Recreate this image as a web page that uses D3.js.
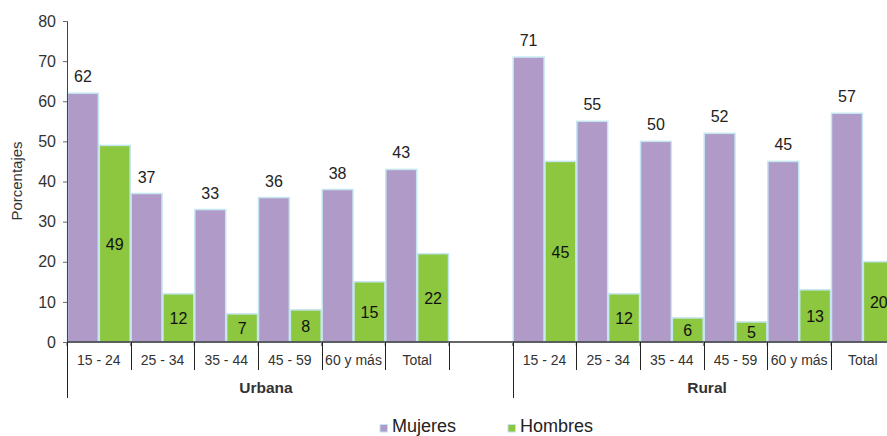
<!DOCTYPE html>
<html><head><meta charset="utf-8">
<script src="https://cdn.jsdelivr.net/npm/d3@7"></script>
<style>body{margin:0;background:#fff}svg{display:block;font-family:"Liberation Sans",Arial,sans-serif}</style>
</head><body><svg id="c" width="887" height="436"></svg>
<script>
const groups = ["Urbana", "Rural"];
const ages = ["15 - 24", "25 - 34", "35 - 44", "45 - 59", "60 y más", "Total"];
const mujeresUrbana = [62, 37, 33, 36, 38, 43];
const hombresUrbana = [49, 12, 7, 8, 15, 22];
const mujeresRural = [71, 55, 50, 52, 45, 57];
const hombresRural = [45, 12, 6, 5, 13, 20];
const yTicks = [0, 10, 20, 30, 40, 50, 60, 70, 80];
const seriesNames = ["Mujeres", "Hombres"];
const colors = ["#b09ac7", "#8dc63f"];

// Build slot table: Urbana 6 + empty slot, Rural 6
const slots = [];
ages.forEach((a, i) => slots.push({key: "U" + i, age: a, group: 0, m: mujeresUrbana[i], h: hombresUrbana[i]}));
slots.push({key: "gap", age: "", group: 0, m: null, h: null});
ages.forEach((a, i) => slots.push({key: "R" + i, age: a, group: 1, m: mujeresRural[i], h: hombresRural[i]}));

const svg = d3.select("#c");
const x0 = 67, step = 63.67;
const x = d3.scaleBand().domain(slots.map(d => d.key)).range([x0, x0 + step * slots.length]).padding(0);
const xs = d3.scaleBand().domain([0, 1]).range([0, x.bandwidth()]).padding(0);
const y = d3.scaleLinear().domain([0, 80]).range([342, 21]);

// bars
const g = svg.append("g");
slots.filter(d => d.m !== null).forEach(d => {
  [d.m, d.h].forEach((v, si) => {
    g.append("rect")
      .attr("x", x(d.key) + xs(si) + 0.5)
      .attr("y", y(v))
      .attr("width", xs.bandwidth() - 1)
      .attr("height", y(0) - y(v))
      .attr("fill", colors[si])
      .attr("stroke", "#c4e6f0").attr("stroke-width", 1.5);
  });
  // labels
  g.append("text").attr("x", x(d.key) + xs(0) + xs.bandwidth() / 2).attr("y", y(d.m) - 11)
    .attr("text-anchor", "middle").attr("font-size", 16).attr("fill", "#222").text(d.m);
  g.append("text").attr("x", x(d.key) + xs(1) + xs.bandwidth() / 2).attr("y", (y(d.h) + y(0)) / 2 + 6)
    .attr("text-anchor", "middle").attr("font-size", 16).attr("fill", "#111").text(d.h);
});

// y axis
const ya = svg.append("g").attr("transform", `translate(${x0},0)`)
  .call(d3.axisLeft(y).tickValues(yTicks).tickSize(4).tickPadding(7));
ya.select(".domain").attr("stroke", "#444");
ya.selectAll(".tick line").attr("stroke", "#666");
ya.selectAll("text").attr("font-size", 16).attr("fill", "#333").attr("font-family", "Liberation Sans, Arial, sans-serif");

svg.append("text").attr("transform", "translate(22,181) rotate(-90)").attr("text-anchor", "middle")
  .attr("font-size", 15).attr("fill", "#333").text("Porcentajes");

// x axis line
svg.append("line").attr("x1", x0).attr("x2", 887).attr("y1", y(0)).attr("y2", y(0)).attr("stroke", "#333").attr("stroke-width", 1.5);

// small ticks
slots.concat([{key: "end"}]).forEach((d, i) => {
  const xp = x0 + step * i;
  svg.append("line").attr("x1", xp).attr("x2", xp).attr("y1", y(0)).attr("y2", y(0) + 4).attr("stroke", "#888").attr("stroke-width", 1.5);
});
// category separators
for (let i = 0; i <= slots.length; i++) {
  const xp = Math.round(x0 + step * i) + 0.5;
  const long = (i === 0 || i === 7 || i === 13);
  svg.append("line").attr("x1", xp).attr("x2", xp).attr("y1", y(0)).attr("y2", long ? 398 : 370)
    .attr("stroke", "#222").attr("stroke-width", 1);
}
// category labels
slots.filter(d => d.age).forEach(d => {
  svg.append("text").attr("x", x(d.key) + x.bandwidth() / 2).attr("y", 365)
    .attr("text-anchor", "middle").attr("font-size", 14).attr("fill", "#333").text(d.age);
});
// group labels
const groupCenters = [266, 707];
groups.forEach((gname, i) => {
  svg.append("text").attr("x", groupCenters[i]).attr("y", 393).attr("text-anchor", "middle")
    .attr("font-size", 15.5).attr("font-weight", "bold").attr("fill", "#333").text(gname);
});

// legend
const legX = [380, 508];
seriesNames.forEach((n, i) => {
  svg.append("rect").attr("x", legX[i]).attr("y", 424.5).attr("width", 7.5).attr("height", 7.5)
    .attr("fill", colors[i]).attr("stroke", "#c4e6f0").attr("stroke-width", 1);
  svg.append("text").attr("x", legX[i] + 12).attr("y", 432).attr("font-size", 18).attr("fill", "#222").text(n);
});
</script></body></html>
